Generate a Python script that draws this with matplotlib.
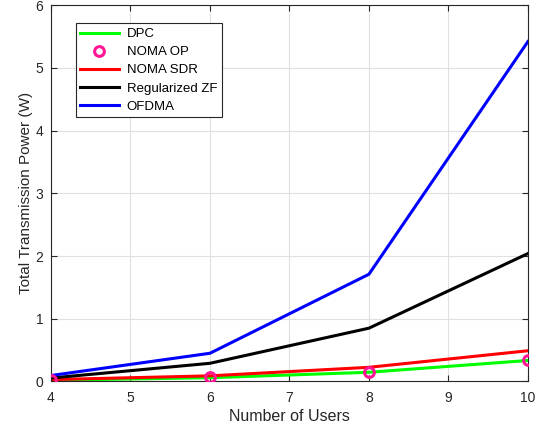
import matplotlib
matplotlib.use("Agg")
import matplotlib.pyplot as plt

users = [4, 6, 8, 10]
dpc = [0.02, 0.06, 0.147, 0.335]
noma_op = [0.027, 0.064, 0.15, 0.335]
noma_sdr = [0.03, 0.09, 0.226, 0.49]
rzf = [0.055, 0.29, 0.85, 2.04]
ofdma = [0.095, 0.45, 1.71, 5.42]

plt.rcParams['font.family'] = ['Liberation Sans', 'DejaVu Sans']
fig = plt.figure(figsize=(5.42, 4.34), dpi=100)
ax = fig.add_axes([0.094, 0.121, 0.880, 0.867])

ax.plot(users, dpc, color='#00ff00', lw=2.2, label='DPC')
ax.plot(users, noma_op, linestyle='none', marker='o', markersize=7, mfc='none',
        mec='#ff1493', mew=2.2, label='NOMA OP', zorder=5)
ax.plot(users, noma_sdr, color='#ff0000', lw=2.2, label='NOMA SDR')
ax.plot(users, rzf, color='#000000', lw=2.2, label='Regularized ZF')
ax.plot(users, ofdma, color='#0000ff', lw=2.2, label='OFDMA')

ax.set_xlim(4, 10)
ax.set_ylim(0, 6)
ax.set_xticks([4, 5, 6, 7, 8, 9, 10])
ax.set_yticks([0, 1, 2, 3, 4, 5, 6])
ax.grid(True, color='#e0e0e0', lw=0.8)
ax.set_axisbelow(True)
ax.tick_params(direction='in', top=True, right=True, colors='#262626', labelsize=10, length=4)
ax.tick_params(axis='x', pad=7)
ax.tick_params(axis='y', pad=5.5)
for s in ax.spines.values():
    s.set_color('#262626')
    s.set_linewidth(0.8)
ax.set_xlabel('Number of Users', fontsize=11.5, color='#262626', labelpad=3)
ax.set_ylabel('Total Transmission Power (W)', fontsize=11, color='#262626', labelpad=2)

leg = ax.legend(loc='upper left', bbox_to_anchor=(0.052, 0.952), borderaxespad=0, fontsize=9.5,
                fancybox=False, framealpha=1, edgecolor='#262626',
                handlelength=2.9, borderpad=0.35, labelspacing=0.45, handletextpad=0.6)
leg.get_frame().set_linewidth(0.8)

fig.savefig('out.png', dpi=100)
